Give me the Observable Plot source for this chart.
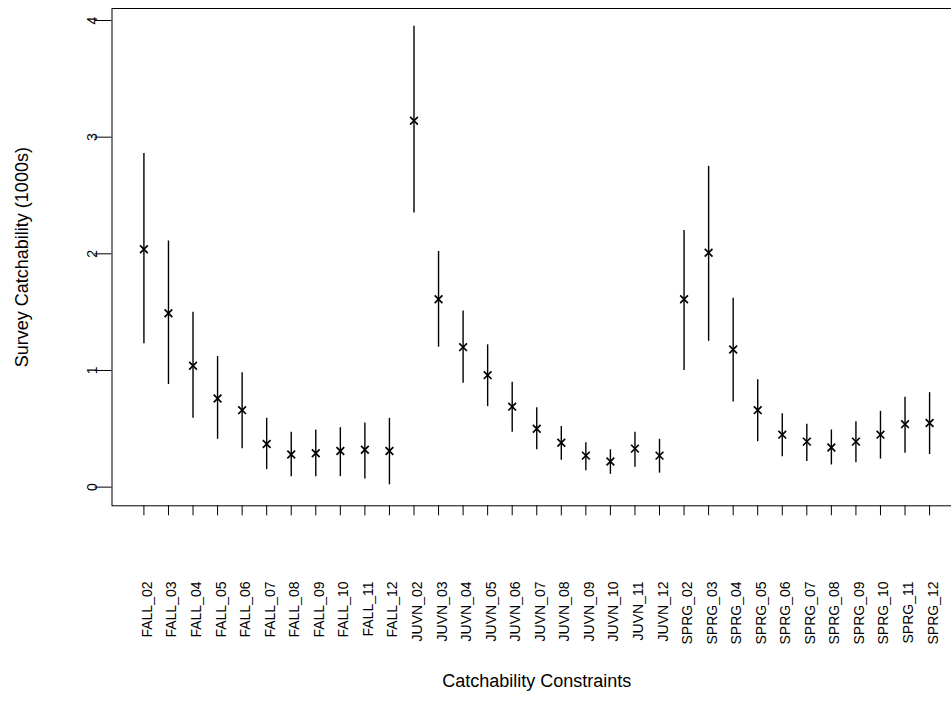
<!DOCTYPE html>
<html>
<head>
<meta charset="utf-8">
<script src="https://cdn.jsdelivr.net/npm/d3@7"></script>
<script src="https://cdn.jsdelivr.net/npm/@observablehq/plot@0.6"></script>
<style>
  html, body { margin: 0; padding: 0; background: white; overflow: hidden; }
</style>
</head>
<body>
<div id="chart"></div>
<script>
const labels = [
  "FALL_02","FALL_03","FALL_04","FALL_05","FALL_06","FALL_07","FALL_08","FALL_09","FALL_10","FALL_11","FALL_12",
  "JUVN_02","JUVN_03","JUVN_04","JUVN_05","JUVN_06","JUVN_07","JUVN_08","JUVN_09","JUVN_10","JUVN_11","JUVN_12",
  "SPRG_02","SPRG_03","SPRG_04","SPRG_05","SPRG_06","SPRG_07","SPRG_08","SPRG_09","SPRG_10","SPRG_11","SPRG_12"
];
const estimate = [
  2.04, 1.49, 1.04, 0.76, 0.66, 0.37, 0.28, 0.29, 0.31, 0.32, 0.31,
  3.14, 1.61, 1.20, 0.96, 0.69, 0.50, 0.38, 0.27, 0.22, 0.33, 0.27,
  1.61, 2.01, 1.18, 0.66, 0.45, 0.39, 0.34, 0.39, 0.45, 0.54, 0.55
];
const lower = [
  1.23, 0.88, 0.59, 0.41, 0.33, 0.15, 0.09, 0.09, 0.09, 0.07, 0.02,
  2.35, 1.20, 0.89, 0.69, 0.47, 0.32, 0.23, 0.14, 0.11, 0.17, 0.12,
  1.00, 1.25, 0.73, 0.39, 0.26, 0.22, 0.19, 0.21, 0.24, 0.29, 0.28
];
const upper = [
  2.86, 2.11, 1.50, 1.12, 0.98, 0.59, 0.47, 0.49, 0.51, 0.55, 0.59,
  3.95, 2.02, 1.51, 1.22, 0.90, 0.68, 0.52, 0.38, 0.32, 0.47, 0.41,
  2.20, 2.75, 1.62, 0.92, 0.63, 0.54, 0.49, 0.56, 0.65, 0.77, 0.81
];
const yTicks = [0, 1, 2, 3, 4];
const xTitle = "Catchability Constraints";
const yTitle = "Survey Catchability (1000s)";

const table = labels.map((name, i) => ({name, est: estimate[i], lo: lower[i], hi: upper[i]}));

const chart = Plot.plot({
  width: 951,
  height: 724,
  marginLeft: 111.5,
  marginRight: -10,
  marginTop: 8,
  marginBottom: 218.7,
  style: {fontFamily: "'Liberation Sans', Arial, Helvetica, sans-serif", background: "white", color: "black"},
  x: {type: "point", domain: labels, padding: 1.3, round: false},
  y: {domain: [-0.16, 4.103]},
  marks: [
    Plot.frame({stroke: "black", strokeWidth: 1}),
    Plot.axisX({tickSize: 10, tickFormat: () => "", label: null}),
    Plot.axisY({ticks: yTicks, tickSize: 17, tickFormat: () => "", label: null}),
    Plot.text(labels, {x: d => d, text: d => d, frameAnchor: "bottom", rotate: -90, textAnchor: "end", dy: 75.7, dx: 8, fontSize: 14, fill: "black"}),
    Plot.text(yTicks, {y: d => d, text: d => String(d), frameAnchor: "left", rotate: -90, textAnchor: "middle", dx: -19.5, fontSize: 14, fill: "black"}),
    Plot.ruleX(table, {x: "name", y1: "lo", y2: "hi", stroke: "black", strokeWidth: 1.4}),
    Plot.dot(table, {x: "name", y: "est", symbol: "times", r: 3.6, stroke: "black", strokeWidth: 1.7}),
    Plot.text([xTitle], {text: d => d, frameAnchor: "bottom", textAnchor: "middle", dy: 181, fontSize: 18, fill: "black"}),
    Plot.text([yTitle], {text: d => d, frameAnchor: "left", rotate: -90, textAnchor: "middle", dx: -89.5, fontSize: 18, fill: "black"})
  ]
});
document.getElementById("chart").appendChild(chart);
</script>
</body>
</html>
